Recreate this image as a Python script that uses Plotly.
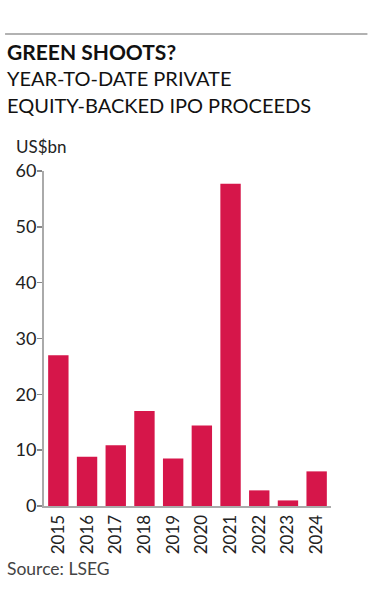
import plotly.graph_objects as go

years = ["2015", "2016", "2017", "2018", "2019", "2020", "2021", "2022", "2023", "2024"]
proceeds = [27.0, 8.8, 10.9, 17.0, 8.5, 14.4, 57.7, 2.8, 1.0, 6.2]
y_ticks = [0, 10, 20, 30, 40, 50, 60]

W, H = 368, 616
L, R, T, B = 44, 331.5, 171, 506

def px(x):
    return (x - L) / (R - L)

def py(y):
    return (B - y) / (B - T)

FONT = "Lato"

fig = go.Figure(go.Bar(
    x=years, y=proceeds,
    marker=dict(color="#D6164A", line=dict(width=0)),
    hoverinfo="skip",
))

fig.update_layout(
    width=W, height=H,
    margin=dict(l=L, r=W - R, t=T, b=H - B, pad=0),
    paper_bgcolor="white", plot_bgcolor="white",
    bargap=0.29,
    showlegend=False,
    font=dict(family=FONT, color="#222222"),
    xaxis=dict(
        type="category", showgrid=False, zeroline=False,
        showline=True, linecolor="#aaaaaa", linewidth=2,
        ticks="", tickangle=-90, tickfont=dict(size=17, color="#222222"),
        range=[-0.5, 9.5], fixedrange=True,
    ),
    yaxis=dict(
        range=[0, 60], tickvals=y_ticks, showgrid=False, zeroline=False,
        showline=True, linecolor="#aaaaaa", linewidth=2,
        ticks="outside", ticklen=5, tickwidth=1.5, tickcolor="#888888",
        ticklabelstandoff=-3,
        tickfont=dict(size=18, color="#222222"), fixedrange=True,
    ),
    shapes=[dict(type="line", xref="paper", yref="paper",
                 x0=px(5), x1=px(368), y0=py(34), y1=py(34),
                 line=dict(color="#999999", width=1.5))],
    annotations=[
        dict(text="<b>GREEN SHOOTS?</b>", xref="paper", yref="paper",
             x=px(5), y=py(51), xanchor="left", yanchor="middle",
             showarrow=False, font=dict(size=21, color="#111111", family=FONT)),
        dict(text="YEAR-TO-DATE PRIVATE", xref="paper", yref="paper",
             x=px(5), y=py(78), xanchor="left", yanchor="middle",
             showarrow=False, font=dict(size=20, color="#111111", family=FONT)),
        dict(text="EQUITY-BACKED IPO PROCEEDS", xref="paper", yref="paper",
             x=px(5), y=py(105), xanchor="left", yanchor="middle",
             showarrow=False, font=dict(size=20, color="#111111", family=FONT)),
        dict(text="US$bn", xref="paper", yref="paper",
             x=px(14), y=py(146), xanchor="left", yanchor="middle",
             showarrow=False, font=dict(size=17, color="#222222", family=FONT)),
        dict(text="Source: LSEG", xref="paper", yref="paper",
             x=px(5), y=py(568), xanchor="left", yanchor="middle",
             showarrow=False, font=dict(size=17.5, color="#444444", family=FONT)),
    ],
)

fig.write_html("out.html", config={"displayModeBar": False, "staticPlot": True},
               post_script="document.body.style.margin='0';")
